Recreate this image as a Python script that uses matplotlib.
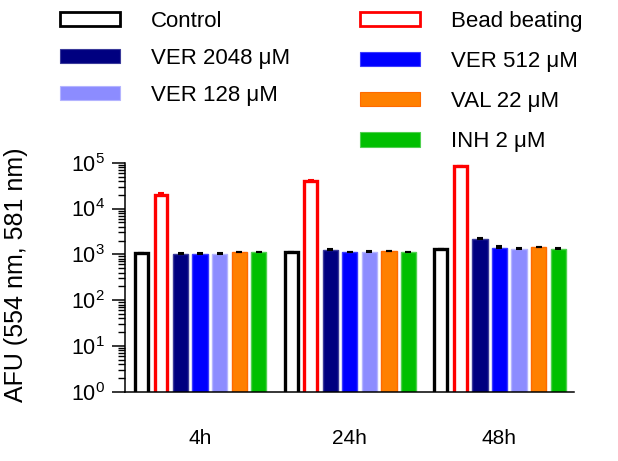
import matplotlib
matplotlib.use("Agg")
import matplotlib.pyplot as plt
import numpy as np
from matplotlib.patches import Patch
from matplotlib.ticker import LogLocator, NullFormatter

plt.rcParams['font.family'] = ['Liberation Sans', 'DejaVu Sans']
plt.rcParams['mathtext.default'] = 'regular'

# Data
groups = ['4h', '24h', '48h']
series = ['Control', 'Bead beating', 'VER 2048 \u03bcM', 'VER 512 \u03bcM',
          'VER 128 \u03bcM', 'VAL 22 \u03bcM', 'INH 2 \u03bcM']
control = [1050, 1100, 1290]
bead_beating = [20000, 40000, 83000]
ver_2048 = [1030, 1250, 2200]
ver_512 = [1030, 1120, 1400]
ver_128 = [1040, 1150, 1330]
val_22 = [1120, 1170, 1420]
inh_2 = [1100, 1110, 1330]

control_err = [25, 25, 25]
bead_err = [1400, 3000, 3000]
ver_2048_err = [20, 25, 40]
ver_512_err = [20, 20, 150]
ver_128_err = [25, 30, 30]
val_22_err = [25, 30, 30]
inh_2_err = [20, 20, 30]

values = [control, bead_beating, ver_2048, ver_512, ver_128, val_22, inh_2]
errors = [control_err, bead_err, ver_2048_err, ver_512_err, ver_128_err,
          val_22_err, inh_2_err]
faces = ['white', 'white', '#000080', '#0000FF', '#8C8CFF', '#FF8000', '#00BF00']
edges = ['black', '#FF0000', '#3A3A9A', '#3C3CFF', '#B4B4FF', '#FF6A00', '#50D050']
ecolors = ['black', '#FF0000', 'black', 'black', 'black', 'black', 'black']

fig = plt.figure(figsize=(6.18, 4.61), dpi=100)
ax = fig.add_axes([0.2027, 0.1503, 0.7266, 0.4967])

x = np.arange(len(groups))
step = 0.1307
for i, (vals, errs) in enumerate(zip(values, errors)):
    pos = x + (i - 3) * step
    outlined = faces[i] == 'white'
    width = 0.086 if outlined else 0.102
    lw = 2.4 if outlined else 1.0
    ax.bar(pos, vals, width=width, color=faces[i], edgecolor=edges[i],
           linewidth=lw, zorder=2)
    ax.errorbar(pos, vals, yerr=[np.zeros(len(errs)), errs], fmt='none',
                ecolor=ecolors[i], elinewidth=1.0, capsize=2.5, capthick=1.5,
                zorder=3)

ax.set_yscale('log')
ax.set_ylim(1, 1e5)
ax.yaxis.set_major_locator(LogLocator(base=10, numticks=10))
ax.yaxis.set_minor_locator(LogLocator(base=10, subs=np.arange(2, 10), numticks=100))
ax.yaxis.set_minor_formatter(NullFormatter())
ax.set_xlim(-0.5, 2.5)
ax.set_xticks(x)
ax.set_xticklabels(groups, fontsize=15)
ax.tick_params(axis='x', length=0, pad=27)
ax.tick_params(axis='y', which='major', length=9.5, width=1.1, labelsize=15.5, pad=5)
ax.tick_params(axis='y', which='minor', length=5, width=1.0)
for s in ['top', 'right']:
    ax.spines[s].set_visible(False)
for s in ['left', 'bottom']:
    ax.spines[s].set_linewidth(1.1)

fig.text(0.026, 0.405, 'AFU (554 nm, 581 nm)', rotation=90, fontsize=18,
         ha='center', va='center')

handles = [Patch(facecolor=faces[i], edgecolor=edges[i],
                 linewidth=2 if faces[i] == 'white' else 0.8) for i in range(7)]
left_idx = [0, 2, 4]
right_idx = [1, 3, 5, 6]
leg1 = fig.legend([handles[i] for i in left_idx], [series[i] for i in left_idx],
                  loc='upper left', bbox_to_anchor=(60 / 618, 1 - 11 / 461),
                  frameon=False, fontsize=16, handlelength=2.7, handleheight=0.6,
                  handletextpad=1.4, labelspacing=0.72, borderpad=0,
                  borderaxespad=0)
leg2 = fig.legend([handles[i] for i in right_idx], [series[i] for i in right_idx],
                  loc='upper left', bbox_to_anchor=(360 / 618, 1 - 11 / 461),
                  frameon=False, fontsize=16, handlelength=2.7, handleheight=0.6,
                  handletextpad=1.4, labelspacing=0.86, borderpad=0,
                  borderaxespad=0)

fig.savefig('out.png', dpi=100)
